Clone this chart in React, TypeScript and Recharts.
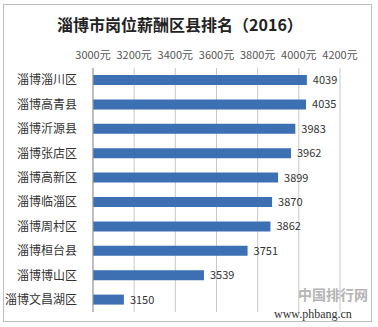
import { Bar, BarChart, CartesianGrid, LabelList, XAxis, YAxis } from "recharts";

const districts = [
  "淄博淄川区",
  "淄博高青县",
  "淄博沂源县",
  "淄博张店区",
  "淄博高新区",
  "淄博临淄区",
  "淄博周村区",
  "淄博桓台县",
  "淄博博山区",
  "淄博文昌湖区",
];
const salaries = [4039, 4035, 3983, 3962, 3899, 3870, 3862, 3751, 3539, 3150];
const xTicks = [3000, 3200, 3400, 3600, 3800, 4000, 4200];

const data = districts.map((name, i) => ({ name, value: salaries[i] }));

const font = "'Noto Sans CJK SC', 'Noto Sans', sans-serif";

export default function App() {
  return (
    <div
      style={{
        position: "fixed",
        left: 0,
        top: 0,
        width: 378,
        height: 327,
        background: "#fff",
        fontFamily: font,
      }}
    >
      <div
        style={{
          position: "absolute",
          left: 3,
          top: 4,
          width: 367,
          height: 316,
          border: "1px solid #bdbdbd",
        }}
      />
      <div
        style={{
          position: "absolute",
          left: 0,
          width: 360,
          top: 12,
          textAlign: "center",
          fontSize: 16,
          fontWeight: 700,
          color: "#222",
        }}
      >
        淄博市岗位薪酬区县排名（2016）
      </div>
      <BarChart
        width={378}
        height={327}
        data={data}
        layout="vertical"
        margin={{ top: 38, right: 38, bottom: 15, left: 0 }}
        style={{ position: "absolute", left: 0, top: 0 }}
      >
        <CartesianGrid horizontal={false} stroke="#c8c8c8" />
        <XAxis
          type="number"
          orientation="top"
          domain={[3000, 4200]}
          ticks={xTicks}
          height={30}
          axisLine={false}
          tickLine={false}
          tickMargin={3}
          tick={{ fontSize: 11, fill: "#555", fontFamily: font }}
          tickFormatter={(v) => `${v}元`}
          interval={0}
        />
        <YAxis
          type="category"
          dataKey="name"
          width={93}
          axisLine={{ stroke: "#999" }}
          tickLine={false}
          tickMargin={10}
          tick={{ fontSize: 12, fill: "#333", fontFamily: font }}
          interval={0}
        />
        <Bar dataKey="value" fill="#3d6fb3" barSize={10} isAnimationActive={false}>
          <LabelList
            dataKey="value"
            position="right"
            offset={6}
            style={{ fontSize: 11, fill: "#333", fontFamily: font }}
          />
        </Bar>
      </BarChart>
      <div
        style={{
          position: "absolute",
          left: 298,
          top: 286,
          fontSize: 14,
          lineHeight: "16px",
          fontWeight: 700,
          color: "#b5b5b5",
        }}
      >
        中国排行网
      </div>
      <div
        style={{
          position: "absolute",
          left: 274,
          top: 307,
          fontSize: 12,
          lineHeight: "14px",
          fontFamily: "'Liberation Serif', serif",
          color: "#333",
        }}
      >
        www.phbang.cn
      </div>
    </div>
  );
}
